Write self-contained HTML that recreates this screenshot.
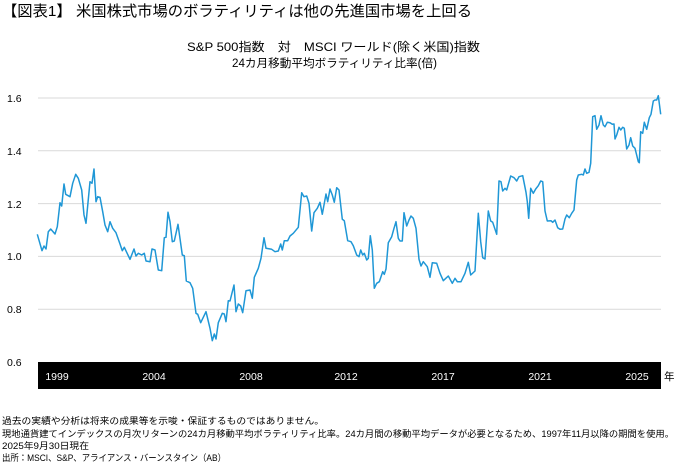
<!DOCTYPE html>
<html><head><meta charset="utf-8"><style>
body{margin:0;background:#fff;width:677px;height:465px;overflow:hidden;font-family:"Liberation Sans","Noto Sans CJK JP",sans-serif;}
</style></head><body>
<svg width="677" height="465" viewBox="0 0 677 465" xmlns="http://www.w3.org/2000/svg" font-family="Liberation Sans, Noto Sans CJK JP, sans-serif">
<text x="2" y="16" font-size="15" fill="#000" textLength="470" lengthAdjust="spacingAndGlyphs">【図表1】 米国株式市場のボラティリティは他の先進国市場を上回る</text>
<text x="187" y="51" font-size="12" fill="#000" textLength="293" lengthAdjust="spacingAndGlyphs">S&amp;P 500指数　対　MSCI ワールド(除く米国)指数</text>
<text x="232" y="67" font-size="11.5" fill="#000" textLength="205" lengthAdjust="spacingAndGlyphs">24カ月移動平均ボラティリティ比率(倍)</text>
<g stroke="#d9d9d9" stroke-width="1">
<line x1="38" x2="661" y1="98" y2="98"/><line x1="38" x2="661" y1="150.8" y2="150.8"/><line x1="38" x2="661" y1="203.6" y2="203.6"/><line x1="38" x2="661" y1="256.4" y2="256.4"/><line x1="38" x2="661" y1="309.2" y2="309.2"/>
</g>
<g font-size="10.5" fill="#000">
<text x="7" y="102">1.6</text><text x="7" y="155">1.4</text><text x="7" y="208">1.2</text><text x="7" y="260">1.0</text><text x="7" y="313">0.8</text><text x="7" y="366">0.6</text>
</g>
<rect x="38" y="362" width="623" height="27" fill="#000"/>
<g font-size="10.5" fill="#fff" text-anchor="middle">
<text x="57" y="380">1999</text><text x="154" y="380">2004</text><text x="251" y="380">2008</text><text x="346" y="380">2012</text><text x="443" y="380">2017</text><text x="540" y="380">2021</text><text x="637" y="380">2025</text>
</g>
<text x="664" y="380" font-size="10.5" fill="#000">年</text>
<polyline fill="none" stroke="#1f97d6" stroke-width="1.5" stroke-linejoin="round" points="
37.3,234.3 42,250.7 44,246 46,249 48.3,231.7 50.7,229 55,234 57.3,226.7 60,202.7 61.7,206 64,184 65.7,194.3 70,196.7 72.7,183.3 75.7,174.3 78.3,178.3 81.7,190 84,215 86,223.3 90,181.7 92,183.3 94,169 96,201.7 97.7,196.7 100,197.3 102.7,211.7 105,225 107.7,231.7 110,221.7 112.7,228.3 116,232.7 120,244 122.3,250.7 124.3,247.3 130,259.3 134,249 136,256 138.3,253.3 141.7,255 144.3,253.3 146,261 150,261.7 152,249 155,250 158.3,270 161.7,270.7 164.3,237.7 166,237.3 168,212.3 170,221.7 172.3,241.7 174.3,241 178,224.3 182.3,255 184.3,255.7 186.3,281 190,282.7 192.7,288.3 196,313.3 197.7,314.3 200.7,322.7 206,311.7 210,328.3 212.3,340.7 214.3,334 216,339 218.3,322.7 222.3,313.3 224.3,314 226,321.7 228.3,300.7 230,301 234,285 236,311.7 238.3,304 240.7,306 242.7,312.7 246,290.7 250,290 252.3,298.3 254.3,277.3 258.3,268.3 261,258.3 264,237.7 266,248.3 271.7,249.3 275,251.7 278.3,251 280.7,244 282.3,250 284.3,240.7 287.7,240.7 290,236 293.3,233.3 298.3,227.3 301.7,192.7 304,196.7 306.7,196 309,203.3 311.7,231 314,212.7 317.3,208.3 320,202.3 322.3,214.3 326,194 327.7,201.7 330,189 332.3,195 334.3,202.3 336.7,187.7 339,190 342.3,219.3 344.3,220.7 347.7,240.7 351,241.7 353.3,245.7 356.7,255 359,256.7 360.7,250 362.7,255 364.3,253.3 366.7,260 368.3,258.3 370.3,235.7 372.3,250 374.3,288.3 376.7,283.3 379.3,281.7 382.7,271.7 384.3,274.3 386,269 388.3,242.7 391.7,236.7 394,228.3 396,221.7 398.3,238.3 400,241 402.3,241 404,212.7 406.7,226 409,220 411,216 413.3,218.3 416,228.3 419,259.3 421,266 423.3,261.7 427.3,266.7 430,277.3 432.3,262.7 436.7,263.3 440,273.3 443.3,280.7 448.3,276 452.3,283.3 455,278.3 457.3,281.7 461,281.7 465,273.3 468.3,262.3 470.7,275 475,271 478.3,213.3 480.7,241.7 482.7,257.7 485,259 488.3,211 490.7,221 492.7,222.3 496.7,234.3 499,181 501,181.7 502.7,191 505,188.3 506.7,190 510.7,176 514,177.7 516.7,181 519,176.7 522.7,175.7 526,192.3 527.3,201.7 528.7,218.3 530.7,188.3 533.3,193.3 535.7,189 538.3,185.7 540.7,181 542.7,181.7 545,211 547.3,221 551,220.7 552.7,222.3 555,220 557.7,227.7 560,229.3 562.7,229 565,219 566.7,215 569.3,217.7 571.7,213.3 574,210 576.7,180 578.3,175 581.7,174.3 583.3,175 585,169 586.7,173.3 589,172.3 590.7,163.3 592.7,116.7 595,115.7 596.7,129.3 599,125 601,115.7 603.3,125 605,126.7 607.3,122.3 610,122.7 612.3,124.3 614,124 615,139 616.7,135 619,127.3 620.7,130 622.7,127.3 624.3,128.3 626.7,149 629,145 630.7,137.7 632.7,146 635,148.3 638.3,161.7 639.3,162.7 640.7,131.7 642.7,133.3 644.3,122.3 646.7,129.3 649.3,117.7 651,114.3 653.3,101 655,100 656.7,100 658.3,95.7 660.7,114.3"/>
<g font-size="9.2" fill="#000" lengthAdjust="spacingAndGlyphs">
<text x="2" y="424" textLength="322" lengthAdjust="spacingAndGlyphs">過去の実績や分析は将来の成果等を示唆・保証するものではありません。</text>
<text x="2" y="437" textLength="672" lengthAdjust="spacingAndGlyphs">現地通貨建てインデックスの月次リターンの24カ月移動平均ボラティリティ比率。24カ月間の移動平均データが必要となるため、1997年11月以降の期間を使用。</text>
<text x="2" y="449" textLength="87" lengthAdjust="spacingAndGlyphs">2025年9月30日現在</text>
<text x="2" y="461" textLength="224" lengthAdjust="spacingAndGlyphs">出所：MSCI、S&amp;P、アライアンス・バーンスタイン（AB）</text>
</g>
</svg>
</body></html>
